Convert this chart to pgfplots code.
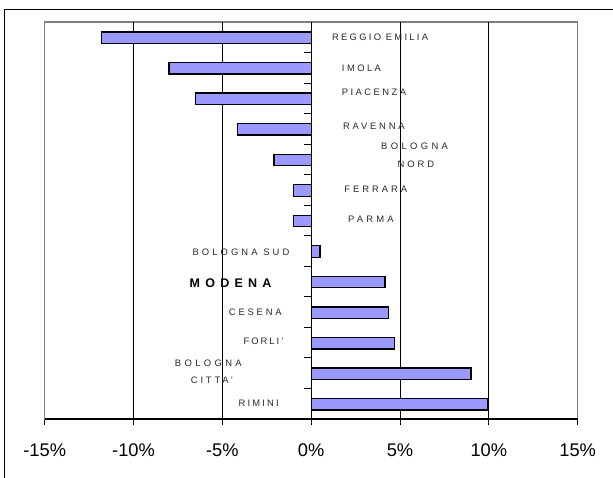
\documentclass[border=0pt]{standalone}
\usepackage{fontspec}
\setmainfont{Liberation Sans}
\usepackage{pgfplots}
\pgfplotsset{compat=1.18}
\definecolor{barfill}{RGB}{153,153,255}
\definecolor{labgray}{RGB}{40,40,40}
\definecolor{boxgray}{RGB}{128,128,128}
\newcommand\lbl[2]{{\fontsize{9.4}{9.4}\selectfont\addfontfeature{LetterSpace=#1}#2}}
\begin{document}
\begin{tikzpicture}
\path[use as bounding box] (0,0) rectangle (613pt,-477pt);
\draw[black, line width=1pt] (4.7pt,-9.5pt) rectangle (640pt,-500pt);
\begin{axis}[
  at={(44.7pt,-22pt)}, anchor=north west,
  scale only axis, width=533pt, height=397pt,
  xmin=-15, xmax=15, ymin=0.5, ymax=13.5, y dir=reverse,
  xtick={-15,-10,-5,0,5,10,15},
  xticklabels={-15\%,-10\%,-5\%,0\%,5\%,10\%,15\%},
  extra x ticks={-10,-5,5,10}, extra x tick labels={},
  extra x tick style={grid=major, major tick length=0pt},
  grid style={black, line width=0.9pt},
  ytick=\empty, xtick pos=bottom,
  tick align=outside, major tick length=6pt,
  tick style={black, line width=1pt},
  axis line style={draw=boxgray, line width=1.2pt},
  xticklabel style={font=\fontsize{18.3}{18.3}\selectfont, inner sep=0pt, yshift=-18.5pt},
  /pgf/number format/assume math mode=true,
  clip=false,
]
\addplot[xbar, bar width=11.5pt, bar shift=-0.5pt, fill=barfill, draw=black, line width=1.3pt]
  coordinates {
  (-11.8,1) (-8.0,2) (-6.5,3) (-4.15,4) (-2.1,5) (-1.0,6) (-1.0,7)
  (0.5,8) (4.15,9) (4.35,10) (4.7,11) (9.0,12) (9.95,13)
  };
\draw[black, line width=1.3pt] (axis cs:-15,13.5) -- (axis cs:15,13.5);
\draw[black, line width=1pt] (axis cs:0,0.5) -- (axis cs:0,13.5);
\pgfplotsinvokeforeach{1,...,12}{\draw[black, line width=1pt] (axis cs:0,#1.5) -- ++(-7pt,0pt);}
\begin{scope}[every node/.style={anchor=west, inner sep=0pt, text=labgray}]
\node at (axis cs:1.17,1.0) {\lbl{24}{REGGIO EMILIA}};
\node at (axis cs:1.72,2.03) {\lbl{26}{IMOLA}};
\node at (axis cs:1.72,2.80) {\lbl{26}{PIACENZA}};
\node at (axis cs:1.78,3.905) {\lbl{30}{RAVENNA}};
\node at (axis cs:3.93,4.58) {\lbl{36}{BOLOGNA}};
\node at (axis cs:4.86,5.17) {\lbl{31}{NORD}};
\node at (axis cs:1.85,5.97) {\lbl{32}{FERRARA}};
\node at (axis cs:2.07,6.95) {\lbl{34}{PARMA}};
\node at (axis cs:-6.69,8.05) {\lbl{33}{BOLOGNA SUD}};
\node[text=black] at (axis cs:-6.85,9.06) {\fontsize{12.5}{12.5}\selectfont\bfseries\addfontfeature{LetterSpace=42}MODENA};
\node at (axis cs:-4.64,9.99) {\lbl{30}{CESENA}};
\node at (axis cs:-3.81,10.97) {\lbl{21}{FORLI'}};
\node at (axis cs:-7.68,11.66) {\lbl{36}{BOLOGNA}};
\node at (axis cs:-6.78,12.23) {\lbl{30}{CITTA'}};
\node at (axis cs:-4.09,12.98) {\lbl{23}{RIMINI}};
\end{scope}
\end{axis}
\end{tikzpicture}
\end{document}
